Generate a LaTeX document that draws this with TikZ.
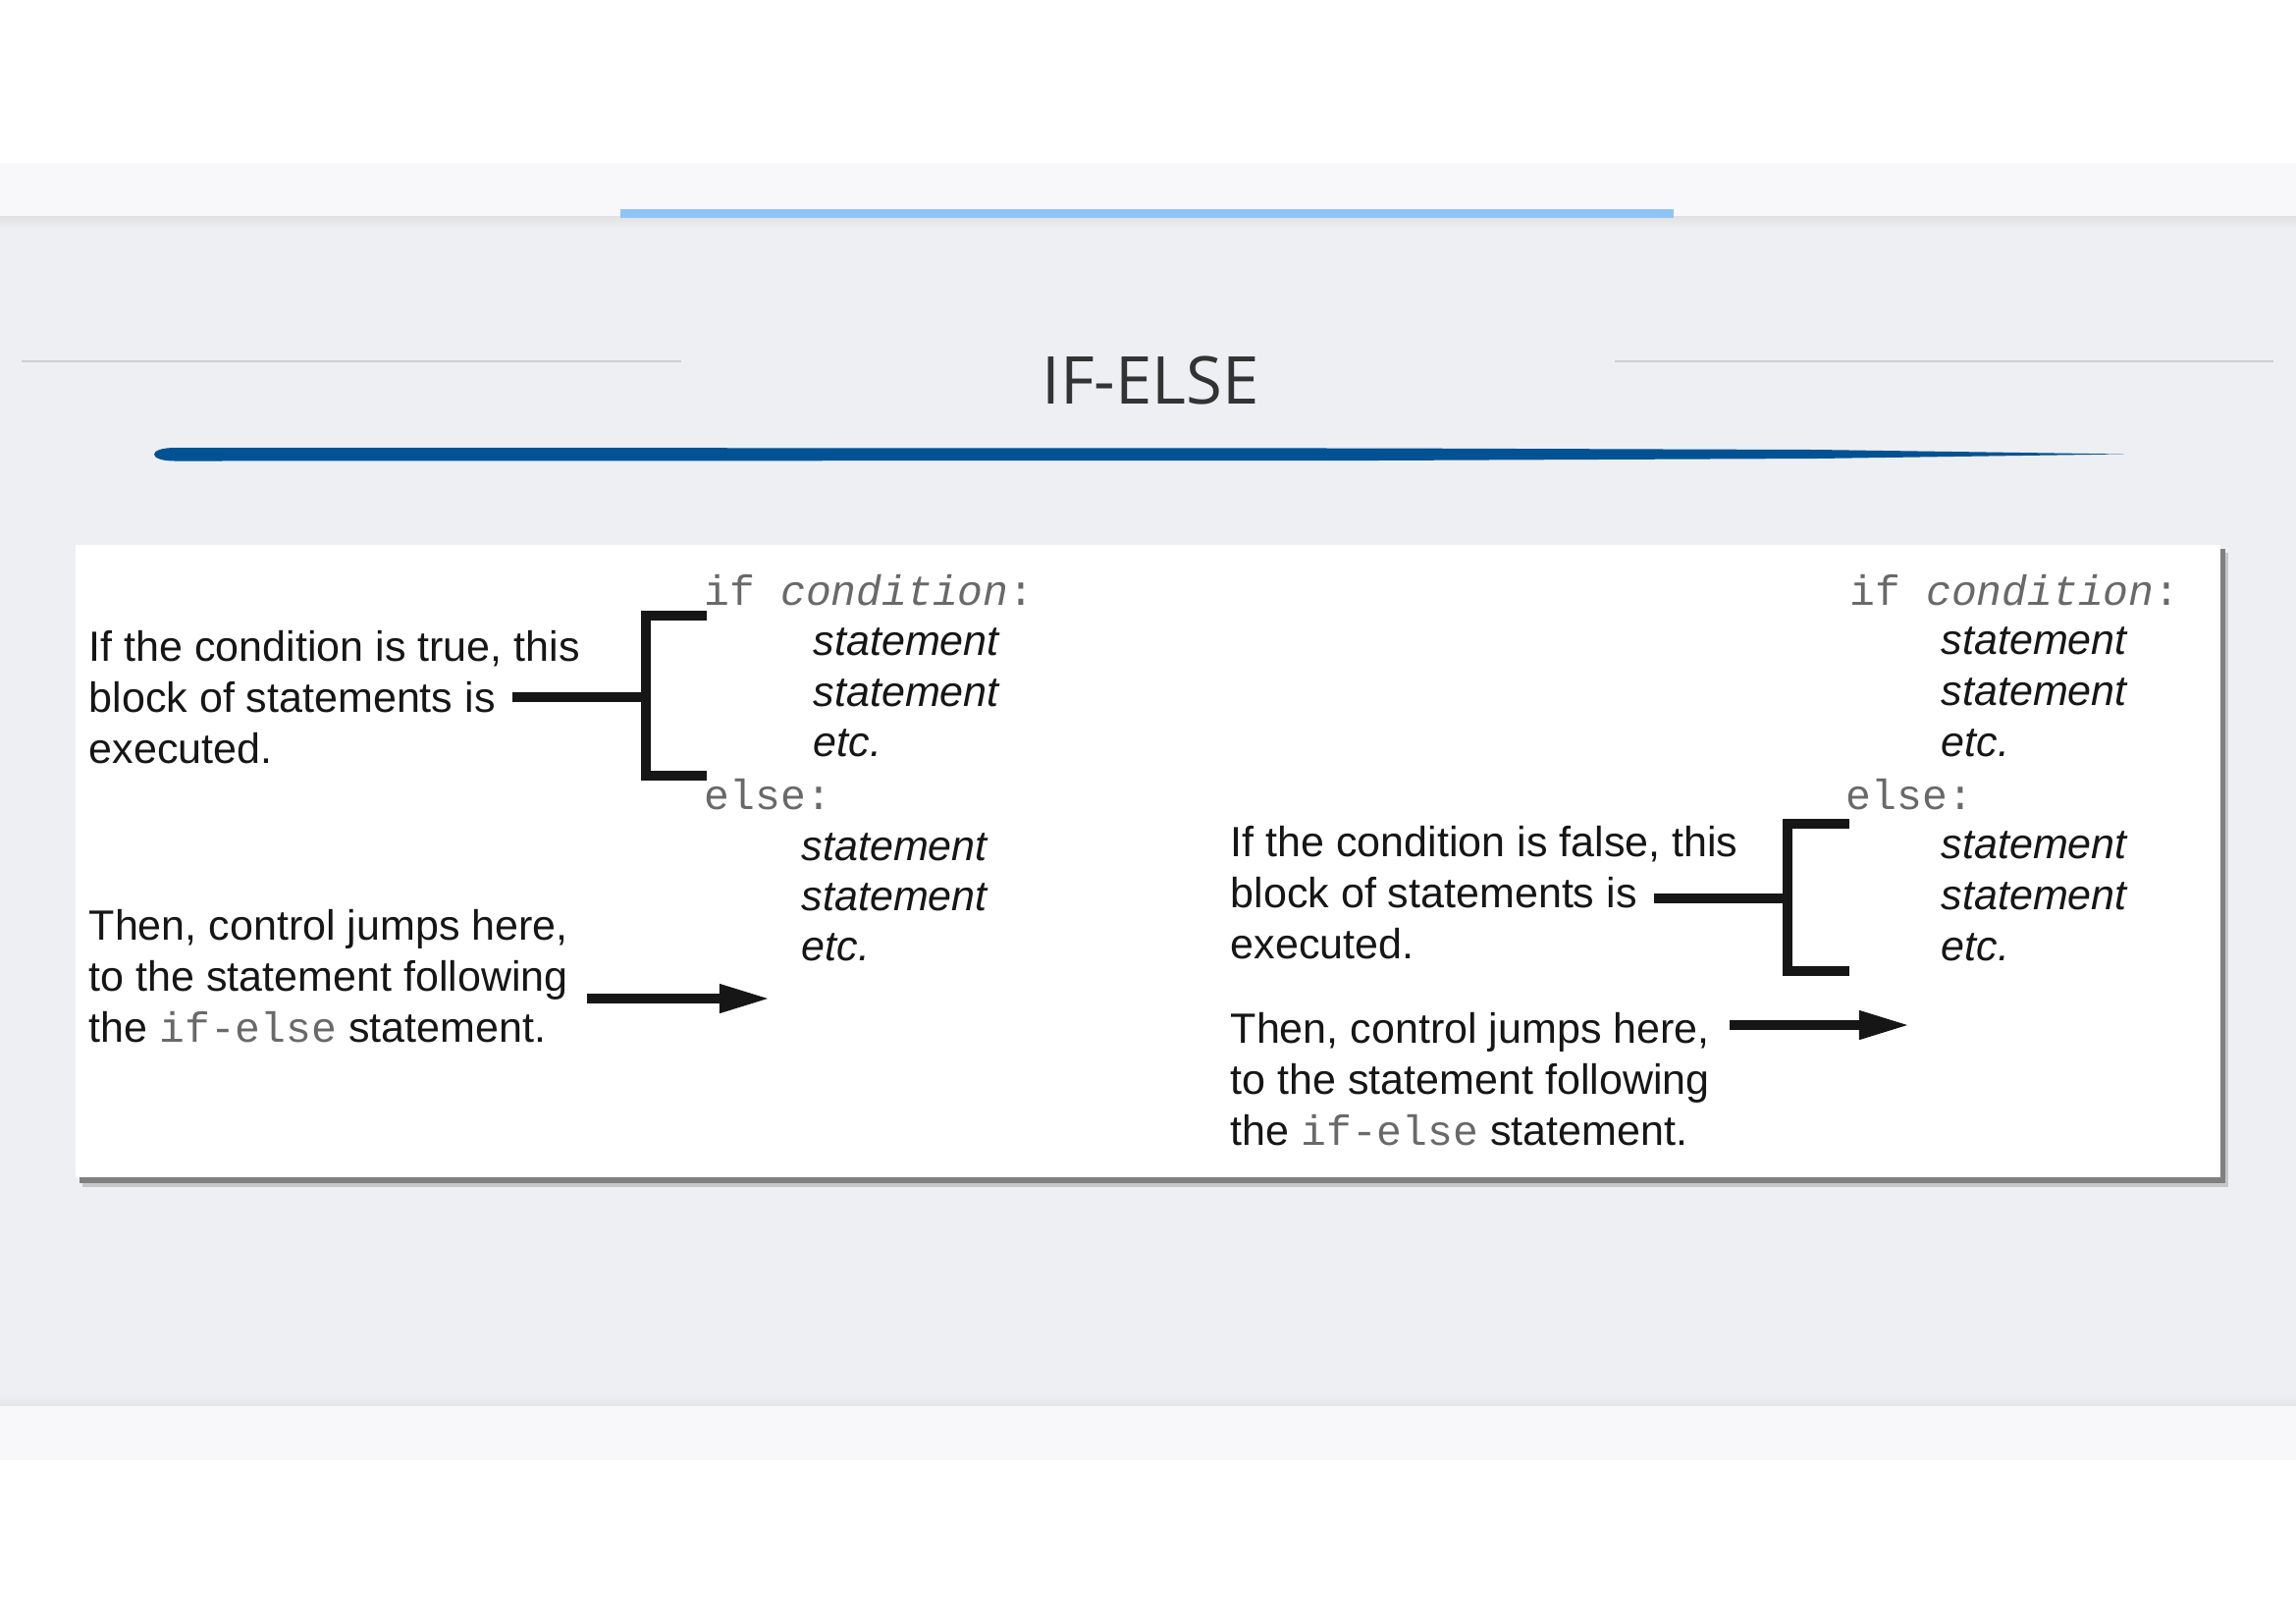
\documentclass[tikz,border=0pt]{standalone}
\usepackage{fontspec}
\setmainfont{Liberation Sans}
\setmonofont{Liberation Mono}
\newfontfamily\titlefont{Open Sans}
\usetikzlibrary{arrows.meta}
\definecolor{bgray}{RGB}{238,239,243}
\definecolor{band}{RGB}{248,248,250}
\definecolor{topblue}{RGB}{144,196,249}
\definecolor{brush}{RGB}{0,82,147}
\definecolor{codegray}{RGB}{105,105,105}
\definecolor{ink}{RGB}{22,22,22}
\definecolor{rulegray}{RGB}{206,207,211}
\definecolor{titlegray}{RGB}{51,51,51}
\begin{document}
\begin{tikzpicture}[x=0.01cm,y=-0.01cm,
  txt/.style={anchor=base west, inner sep=0pt, text=ink, font=\fontsize{12.24pt}{14.8pt}\selectfont},
  stmt/.style={txt, font=\fontsize{12.24pt}{14.8pt}\selectfont\itshape},
  code/.style={txt, text=codegray, font=\fontsize{12.24pt}{14.8pt}\selectfont\ttfamily},
  brk/.style={line width=0.1cm, draw=ink, line join=miter},
  arr/.style={line width=0.1cm, draw=ink, -{Triangle[length=0.52cm,width=0.27cm]}},
]
\useasboundingbox (0,0) rectangle (2339,1653);
% background bands
\fill[white] (0,0) rectangle (2339,1653);
\fill[band] (0,166) rectangle (2339,220);
\fill[bgray] (0,220) rectangle (2339,1432);
\shade[top color=black!12, bottom color=bgray] (0,220) rectangle (2339,232);
\shade[top color=bgray, bottom color=black!10] (0,1420) rectangle (2339,1432);
\fill[band] (0,1432) rectangle (2339,1487);
\fill[topblue] (632,213) rectangle (1705,222);
% title rules
\draw[rulegray, line width=0.02cm] (22,368) -- (694,368);
\draw[rulegray, line width=0.02cm] (1645,368) -- (2316,368);
\node[anchor=base, inner sep=0pt, text=titlegray] (title) at (1172,411)
  {\titlefont\fontsize{19.1pt}{23pt}\selectfont IF-ELSE};
% brush stroke
\fill[brush] (178,456) -- (1400,456.5) -- (1850,458) -- (2164,462.5) -- (1850,467) -- (1400,469) -- (178,469.5)
  .. controls (150,469.5) and (150,456) .. (178,456) -- cycle;
% white panel with shadow
\fill[black!22] (84,563) rectangle (2270,1209);
\fill[black!50] (81,559) rectangle (2267,1205);
\fill[white] (77,555) rectangle (2262,1199);

% ---------- left panel ----------
\node[code] (lif) at (717,616) {if \textit{condition}:};
\node[stmt] (ls1) at (828,667) {statement};
\node[stmt] (ls2) at (828,719) {statement};
\node[stmt] (ls3) at (828,770) {etc.};
\node[code] (lelse) at (717,824) {else:};
\node[stmt] (ls4) at (816,876) {statement};
\node[stmt] (ls5) at (816,927) {statement};
\node[stmt] (ls6) at (816,978) {etc.};
\node[txt] (lt1) at (90,673) {If the condition is true, this};
\node[txt] (lt2) at (90,725) {block of statements is};
\node[txt] (lt3) at (90,777) {executed.};
\node[txt] (ln1) at (90,957) {Then, control jumps here,};
\node[txt] (ln2) at (90,1009) {to the statement following};
\node[txt] (ln3) at (90,1061) {the \textcolor{codegray}{\ttfamily if-else} statement.};
\coordinate (lbt) at (720,627);
\coordinate (lbtc) at (658,627);
\coordinate (lbbc) at (658,790);
\coordinate (lbb) at (720,790);
\coordinate (lbm) at (522,710);
\coordinate (lbmc) at (658,710);
\draw[brk] (lbt) -- (lbtc) -- (lbbc) -- (lbb);
\draw[brk] (lbm) -- (lbmc);
\coordinate (la0) at (598,1017);
\coordinate (la1) at (785,1017);
\draw[arr] (la0) -- (la1);

% ---------- right panel ----------
\node[code] (rif) at (1884,616) {if \textit{condition}:};
\node[stmt] (rs1) at (1977,666) {statement};
\node[stmt] (rs2) at (1977,718) {statement};
\node[stmt] (rs3) at (1977,770) {etc.};
\node[code] (relse) at (1880,824) {else:};
\node[stmt] (rs4) at (1977,874) {statement};
\node[stmt] (rs5) at (1977,926) {statement};
\node[stmt] (rs6) at (1977,978) {etc.};
\node[txt] (rt1) at (1253,872) {If the condition is false, this};
\node[txt] (rt2) at (1253,924) {block of statements is};
\node[txt] (rt3) at (1253,976) {executed.};
\node[txt] (rn1) at (1253,1062) {Then, control jumps here,};
\node[txt] (rn2) at (1253,1114) {to the statement following};
\node[txt] (rn3) at (1253,1166) {the \textcolor{codegray}{\ttfamily if-else} statement.};
\coordinate (rbt) at (1884,839);
\coordinate (rbtc) at (1821,839);
\coordinate (rbbc) at (1821,989);
\coordinate (rbb) at (1884,989);
\coordinate (rbm) at (1685,915);
\coordinate (rbmc) at (1821,915);
\draw[brk] (rbt) -- (rbtc) -- (rbbc) -- (rbb);
\draw[brk] (rbm) -- (rbmc);
\coordinate (ra0) at (1762,1044);
\coordinate (ra1) at (1946,1044);
\draw[arr] (ra0) -- (ra1);
\end{tikzpicture}
\end{document}
